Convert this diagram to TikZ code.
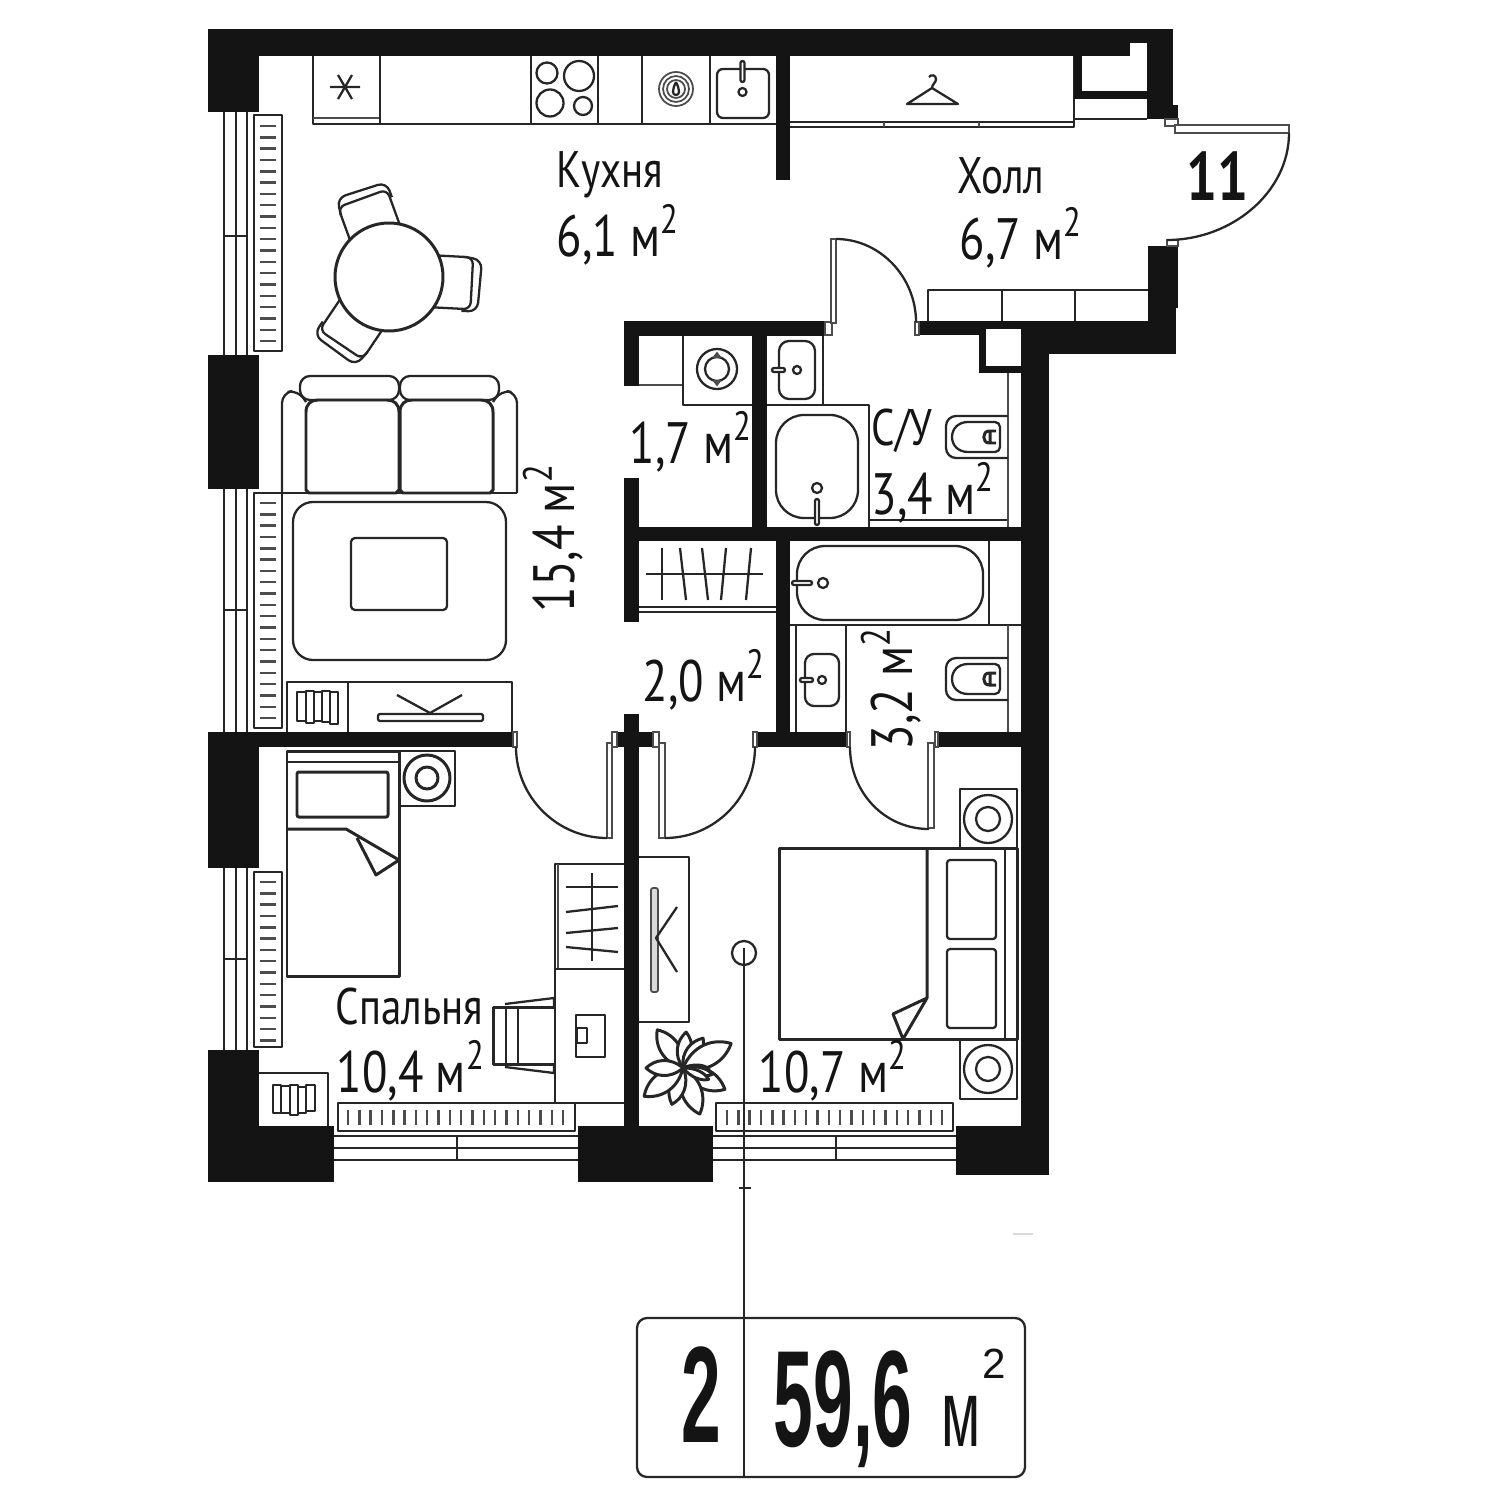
\documentclass[tikz,border=0pt]{standalone}
\usepackage{fontspec}
\setmainfont[FakeStretch=0.8]{PT Sans}
\newfontfamily\tagfont[FakeStretch=0.52]{Liberation Sans}
\newfontfamily\tagthin[FakeStretch=0.6]{Liberation Sans}
\newfontfamily\tagsup{Liberation Sans}
\newcommand{\sqm}{м\textsuperscript{2}}
\definecolor{wallblack}{HTML}{141414}

\begin{document}
\begin{tikzpicture}[x=0.01cm, y=-0.01cm,
    wall/.style={fill=wallblack},
    furn/.style={draw=black!85, line width=0.65pt, line join=round},
    heavy/.style={furn, line width=0.85pt},
    thin/.style={draw=black!70, line width=0.5pt},
    jamb/.style={draw=black!70, line width=0.4pt, fill=white},
    room/.style={anchor=base west, inner sep=0pt, text=wallblack, font=\fontsize{14.6pt}{16pt}\selectfont},
    area/.style={room, font=\fontsize{16.6pt}{18pt}\selectfont},
    toilet/.pic={
      \draw[furn, rounded corners=0.1cm] (62,0) -- (0,0) -- (0,42) -- (62,42);
      \draw[furn, rounded corners=0.05cm] (34,6) -- (54,6) -- (54,36) -- (34,36);
      \draw[furn] (34,6) -- (22,6) .. controls (12,6) and (6,13) .. (6,21) .. controls (6,29) and (12,36) .. (22,36) -- (34,36);
      \draw[heavy] (50,15) -- (43,15) .. controls (36,15) and (36,27) .. (43,27) -- (50,27) (44,15) -- (44,27);
    },
    chair/.pic={
      \draw[furn, rounded corners=0.07cm, fill=white] (45,-24) -- (83,-24) -- (83,28) -- (45,28);
      \draw[furn, rounded corners=0.09cm] (74,-24) -- (92,-22) -- (90,30) -- (74,30);
    }]

    \useasboundingbox (0,0) rectangle (1500,1500);

    % windows
    \foreach \ya/\yb/\ym in {112/355/236, 489/732/610, 868/1050/959} {
      \foreach \xa in {224,236,247}
        \draw[furn] (\xa,\ya) -- (\xa,\yb);
      \draw[furn] (224,\ym) -- (247,\ym);
    }
    \foreach \xa/\xb/\xm in {334/578/457, 713/956/836} {
      \foreach \ya in {1136,1148,1160}
        \draw[furn] (\xa,\ya) -- (\xb,\ya);
      \draw[furn] (\xm,1136) -- (\xm,1160);
    }

    % radiators
    \foreach \ya/\yb/\yc/\n in {115/351/126/19, 493/728/503/19, 872/1047/882/14} {
      \draw[furn, fill=white] (254,\ya) rectangle (282,\yb);
      \foreach \i in {0,...,\n}
        \draw[thin, line width=0.7pt] (260,{\yc+\i*11.32}) -- (276,{\yc+\i*11.32});
    }
    \foreach \xa/\xb/\xc in {338/575/348, 716/953/727} {
      \draw[furn, fill=white] (\xa,1103) rectangle (\xb,1131);
      \foreach \i in {0,...,19}
        \draw[thin, line width=0.7pt] ({\xc+\i*11.32},1110) -- ({\xc+\i*11.32},1125);
    }

    % kitchen counter
    \draw[furn] (313,56) -- (313,124) -- (776,124);
    \draw[thin] (313,118) -- (380,118);
    \foreach \xa in {380,531,598,642,710}
      \draw[furn] (\xa,56) -- (\xa,124);
    \draw[furn] (330,87) -- (360,87) (338,75) -- (352,99) (352,75) -- (338,99);
    \draw[furn] (547,73) circle[radius=10.5];
    \draw[furn] (579,76) circle[radius=15];
    \draw[furn] (550,103) circle[radius=13.5];
    \draw[furn] (583,106) circle[radius=9];
    \foreach \r in {17,13,9}
      \draw[thin] (676,89) circle[radius=\r];
    \draw[furn] (676,82) .. controls (680,90) and (680,95) .. (676,95) .. controls (672,95) and (672,90) .. (676,82);
    \draw[furn, rounded corners=0.06cm] (717,69) rectangle (769,118);
    \draw[furn, fill=white, rounded corners=0.02cm] (740.5,61) rectangle (744.5,82);
    \draw[furn] (742.5,92) circle[radius=4];

    % wardrobe and shaft
    \draw[furn] (790,122) -- (1074,122);
    \draw[furn] (790,127) -- (1074,127) -- (1074,56);
    \draw[thin] (884,122) -- (884,127) (979,122) -- (979,127);
    \draw[furn] (907,104) -- (958,104) -- (932,88) -- cycle;
    \draw[furn] (932,88) .. controls (932,84) and (936,83) .. (936,79) .. controls (936,75) and (931,74) .. (929,77);
    \draw[furn] (1074,119) -- (1147,119);

    % dining table
    \pic[rotate=-3] at (389,277) {chair};
    \pic[rotate=110] at (389,277) {chair};
    \pic[rotate=236] at (389,277) {chair};
    \draw[heavy, fill=white] (389,277) circle[radius=54];

    % sofa, rug, tv unit
    \draw[furn, rounded corners=0.1cm] (306,402) -- (298,390) -- (282,393) -- (282,493);
    \draw[furn, rounded corners=0.1cm] (493,402) -- (501,390) -- (517,393) -- (517,493);
    \draw[furn] (282,493) -- (517,493);
    \draw[furn, rounded corners=0.1cm] (300,376) rectangle (399,400);
    \draw[furn, rounded corners=0.1cm] (400,376) rectangle (499,400);
    \foreach \xa/\xb in {306/399, 400/493} {
      \draw[heavy] (\xa,490) -- (\xa,412) .. controls (\xa,404) and ({\xa+5},400) .. ({\xa+12},400) -- ({\xb-12},400) .. controls ({\xb-5},400) and (\xb,404) .. (\xb,412) -- (\xb,490) -- ({\xb-3},493) -- ({\xa+3},493) -- cycle;
    }
    \draw[furn, rounded corners=0.2cm] (293,502) rectangle (506,660);
    \draw[furn, rounded corners=0.04cm] (351,538) rectangle (447,610);
    \draw[furn] (287,732) -- (287,682) -- (512,682) -- (512,732);
    \draw[furn] (348,682) -- (348,732);
    \foreach \xa/\xb/\ya/\yb in {297/306/692/721, 306/314/691/723, 314/322/692/721, 322/330/691/722, 330/338/692/724}
      \draw[furn] (\xa,\ya) rectangle (\xb,\yb);
    \draw[furn, rounded corners=0.02cm] (378,714) rectangle (483,721);
    \draw[furn] (397,695) -- (430,713) -- (462,695);

    % wc and laundry fittings
    \draw[thin] (639,385) -- (683,385);
    \draw[furn] (683,336) -- (683,405) -- (752,405);
    \draw[furn] (717,369) circle[radius=20];
    \draw[furn] (717,369) circle[radius=12];
    \draw[thin, fill=black!70] (714,357) -- (720,357) -- (717,353) -- cycle;
    \draw[thin, fill=black!70] (714,381) -- (720,381) -- (717,385) -- cycle;
    \draw[furn] (823,336) -- (823,405);
    \draw[furn] (767,405) -- (869,405) -- (869,527);
    \draw[furn, rounded corners=0.1cm] (779,341) rectangle (815,399);
    \draw[furn, fill=white, rounded corners=0.02cm] (772,368) rectangle (785,372);
    \draw[furn] (797,370) circle[radius=4];
    \draw[furn, rounded corners=0.28cm] (776,415) rectangle (858,518);
    \draw[furn] (817,488) circle[radius=5];
    \draw[furn, fill=white, rounded corners=0.02cm] (815,499) rectangle (819,525);
    \draw[furn] (869,520) -- (1008,520);
    \draw[thin] (1008,373) -- (1008,527);
    \pic at (946,416) {toilet};

    % storage and bath
    \draw[furn] (639,607) -- (776,607);
    \draw[furn] (639,612) -- (776,612);
    \draw[furn] (646,574) -- (763,574);
    \foreach \xa/\xb in {662/662, 680/686, 702/708, 726/721, 751/746}
      \draw[furn] (\xa,548) -- (\xb,600);
    \draw[furn] (790,625) -- (1021,625);
    \draw[furn] (989,541) -- (989,625);
    \draw[furn, rounded corners=0.28cm] (797,546) rectangle (983,620);
    \draw[furn, fill=white, rounded corners=0.02cm] (792,581) rectangle (812,585);
    \draw[furn] (823,583) circle[radius=5];
    \draw[furn] (796,625) -- (796,732);
    \draw[furn] (846,625) -- (846,732);
    \draw[furn, rounded corners=0.09cm] (805,654) rectangle (839,706);
    \draw[furn, fill=white, rounded corners=0.02cm] (800,678) rectangle (813,682);
    \draw[furn] (822,680) circle[radius=4];
    \draw[thin] (1008,625) -- (1008,732);
    \pic at (946,658) {toilet};

    % hall closet
    \draw[furn] (928,321) -- (928,290) -- (1148,290);
    \draw[furn] (1002,290) -- (1002,321) (1075,290) -- (1075,321);

    % left bedroom
    \draw[heavy] (287,751) rectangle (399,976);
    \draw[furn] (287,762) -- (399,762);
    \draw[heavy, rounded corners=0.02cm] (297,772) rectangle (388,817);
    \draw[heavy] (287,829) -- (346,829) -- (399,860) -- (376,875) -- (357,838);
    \draw[furn] (399,751) -- (455,751) -- (455,806) -- (399,806);
    \draw[heavy] (427,778) circle[radius=23];
    \draw[heavy] (427,778) circle[radius=11];
    \draw[furn] (555,1103) -- (555,864) -- (625,864);
    \draw[thin] (558,864) -- (558,969);
    \draw[furn] (555,969) -- (625,969);
    \draw[furn] (555,1103) -- (625,1103);
    \draw[furn] (592,873) -- (592,961);
    \foreach \ya/\yb in {887/887, 912/906, 933/928, 947/952}
      \draw[furn] (566,\ya) -- (618,\yb);
    \draw[furn] (576,1015) rectangle (605,1057);
    \draw[furn] (577,1028) rectangle (587,1043);
    \draw[heavy] (554,1007) -- (493,1007) -- (493,1064) -- (554,1064);
    \draw[furn] (506,1007) -- (506,1064) (518,1007) -- (518,1064);
    \draw[furn] (505,1004) -- (554,998) -- (554,1007);
    \draw[furn] (505,1067) -- (554,1073) -- (554,1064);
    \draw[furn] (259,1073) -- (328,1073) -- (328,1126);
    \foreach \xa/\xb/\ya/\yb in {273/281/1085/1113, 281/290/1086/1113, 290/298/1085/1115, 298/306/1087/1113, 306/315/1085/1111}
      \draw[furn] (\xa,\ya) rectangle (\xb,\yb);

    % right bedroom
    \draw[furn] (639,857) -- (689,857) -- (689,1022) -- (639,1022);
    \draw[thin, fill=black!15, rounded corners=0.02cm] (651,888) rectangle (658,992);
    \draw[furn] (677,907) -- (656,938) -- (677,972);
    \draw[heavy] (779,848) rectangle (1017,1039);
    \draw[heavy] (927,848) -- (927,998) -- (893,1014) -- (903,1039) -- (927,998);
    \draw[furn, rounded corners=0.03cm] (947,860) rectangle (996,939);
    \draw[furn, rounded corners=0.03cm] (947,949) rectangle (996,1028);
    \draw[furn] (1005,848) -- (1005,1039);
    \foreach \ya/\yb/\yc in {789/848/819, 1040/1099/1069} {
      \draw[furn] (960,\ya) rectangle (1017,\yb);
      \draw[furn] (988,\yc) circle[radius=24];
      \draw[furn] (988,\yc) circle[radius=12];
    }

    % plant
    \foreach \ang/\len in {124/46, 85/36, 56/36, 27/54, -27/47, -70/49, -107/38, 216/48, 180/37} {
      \begin{scope}[shift={(683,1068)}, rotate=\ang]
        \draw[heavy, fill=white] (0,0) .. controls ({.35*\len},{.3*\len}) and ({.75*\len},{.24*\len}) .. (\len,0) .. controls ({.75*\len},{-.24*\len}) and ({.35*\len},{-.3*\len}) .. (0,0);
      \end{scope}
    }
    \foreach \ang/\len in {-2/26, -12/30, -24/28} {
      \begin{scope}[shift={(683,1068)}, rotate=\ang]
        \draw[heavy, fill=white] (0,0) .. controls ({.4*\len},{.2*\len}) and ({.8*\len},{.16*\len}) .. (\len,0) .. controls ({.8*\len},{-.16*\len}) and ({.4*\len},{-.2*\len}) .. (0,0);
      \end{scope}
    }

    % walls
    \foreach \xa/\ya/\xb/\yb in {208/29/1173/56, 208/29/259/112, 208/355/259/489, 208/732/259/868,
        208/1050/259/1182, 208/1126/334/1182, 578/1126/713/1182, 956/1126/1049/1175,
        259/732/515/747, 776/56/790/180, 1147/29/1173/119, 1173/105/1178/119,
        1074/56/1082/99, 1074/91/1147/99, 916/321/1176/335, 1021/321/1176/354,
        979/321/1021/373, 1148/246/1178/308, 1148/308/1176/354, 1021/354/1049/1175,
        624/321/827/336, 624/321/639/386, 752/336/767/527, 624/478/639/622,
        639/527/1021/541, 776/541/790/747, 757/732/847/747, 935/732/1021/747,
        624/714/639/1126, 615/732/655/747}
      \fill[wall] (\xa,\ya) rectangle (\xb,\yb);
    \fill[white] (1130,43) rectangle (1147,56);
    \fill[white] (986,329) rectangle (1021,366);

    % doors
    \foreach \xa/\ya/\xb/\yb in {825/322/832/335, 915/322/919/335, 513/732/517/747, 612/732/617/747,
        653/732/659/747, 753/732/757/747, 847/732/850/747, 935/732/938/747,
        1165/119/1178/126, 1167/240/1178/246}
      \draw[jamb] (\xa,\ya) rectangle (\xb,\yb);
    \foreach \xa/\ya/\xb/\yb in {831/239/836/323, 607/743/612/838, 659/743/665/838, 928/743/934/828, 1175/125/1289/133}
      \draw[jamb] (\xa,\ya) rectangle (\xb,\yb);
    \draw[furn] (836,239) .. controls (880,239) and (916,277) .. (916,322);
    \draw[furn] (516,747) .. controls (516,797) and (557,838) .. (607,838);
    \draw[furn] (755,747) .. controls (755,797) and (715,838) .. (665,838);
    \draw[furn] (850,747) .. controls (850,792) and (884,829) .. (929,829);
    \draw[furn] (1289,133) .. controls (1289,192) and (1232,240) .. (1167,240);

    % room labels
    \node (kitchen) [room] at (556,188) {Кухня};
    \node (kitchenArea) [area] at (556,256) {6,1 \sqm};
    \node (hall) [room] at (957,193) {Холл};
    \node (hallArea) [area] at (959,259) {6,7 \sqm};
    \node (laundryArea) [area] at (629,463) {1,7 \sqm};
    \node (wc) [room] at (871,445) {С/У};
    \node (wcArea) [area] at (871,514) {3,4 \sqm};
    \node (corridorArea) [area] at (642,701) {2,0 \sqm};
    \node (bathArea) [area, rotate=90] at (912,751) {3,2 \sqm};
    \node (livingArea) [area, rotate=90] at (574,613) {15,4 \sqm};
    \node (bedroom) [room] at (335,1024) {Спальня};
    \node (bedroomArea) [area] at (336,1092) {10,4 \sqm};
    \node (masterArea) [area] at (758,1092) {10,7 \sqm};
    \node (flatNo) [room, font=\fontsize{19.5pt}{20pt}\selectfont\bfseries] at (1186,200) {11};

    % centre mark and tag
    \draw[furn] (744,953) circle[radius=12];
    \draw[furn, rounded corners=0.1cm] (637,1318) rectangle (1025,1477);
    \draw[furn] (744,948) -- (744,1477);
    \draw[furn] (739,1188) -- (751,1188);
    \draw[draw=black!15, line width=0.4pt] (1013,1234) -- (1033,1234);
    \node (rooms) [room, font=\fontsize{39pt}{40pt}\selectfont\tagfont\bfseries] at (681,1442) {2};
    \node (total) [room, font=\fontsize{39pt}{40pt}\selectfont\tagfont\bfseries] at (773,1446) {59,6};
    \node (totalUnit) [room, font=\fontsize{27pt}{28pt}\selectfont\tagthin] at (941,1446) {м};
    \node (totalSup) [room, font=\fontsize{12pt}{13pt}\selectfont\tagsup] at (982,1378) {2};
\end{tikzpicture}
\end{document}
